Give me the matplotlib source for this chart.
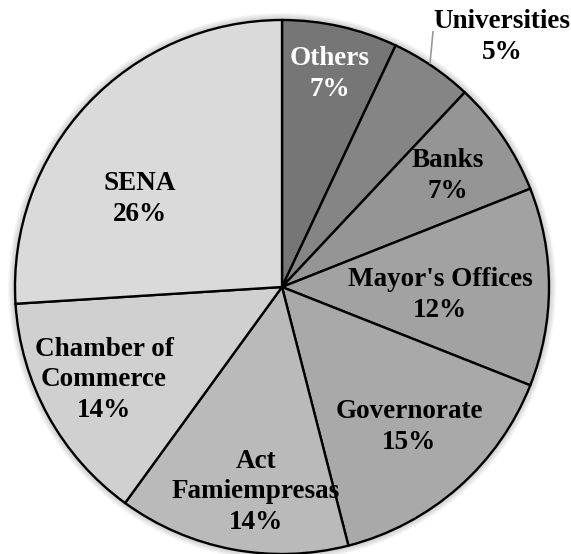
import matplotlib.pyplot as plt

# Data (clockwise from 12 o'clock)
categories = ['Others', 'Universities', 'Banks', "Mayor's Offices", 'Governorate',
              'Act\nFamiempresas', 'Chamber of\nCommerce', 'SENA']
shares = [7, 5, 7, 12, 15, 14, 14, 26]
slice_colors = ['#767676', '#858585', '#959595', '#a2a2a2', '#a9a9a9',
                '#bababa', '#d0d0d0', '#dadada']
text_colors = ['white', 'black', 'black', 'black', 'black', 'black', 'black', 'black']

# Label anchor points in pixels (x from left, y from top)
label_positions = [(330, 74), (502, 37), (448, 176), (440, 295), (409, 427),
                   (256, 492), (104, 380), (140, 199)]

width_px, height_px = 571, 554
center_px = (282, 287)
radius_px = 267

figure = plt.figure(figsize=(width_px / 100, height_px / 100), dpi=100)
axes = figure.add_axes([0, 0, 1, 1])

center = (center_px[0], height_px - center_px[1])

# Soft shadow around the pie
for step in range(6):
    shadow = plt.Circle(center, radius_px + 1 + step * 1.2, color='black',
                        alpha=0.035, lw=0, zorder=0)
    axes.add_patch(shadow)
axes.add_patch(plt.Circle(center, radius_px, color='white', lw=0, zorder=0.5))

axes.pie(shares, colors=slice_colors, startangle=90, counterclock=False,
         center=center, radius=radius_px, frame=True,
         wedgeprops=dict(edgecolor='black', linewidth=1.7))
axes.set_xlim(0, width_px)
axes.set_ylim(0, height_px)
axes.set_aspect('equal')
axes.axis('off')

font = dict(family='Liberation Serif', weight='bold', fontsize=19.5)
for label, share, color, (x, y) in zip(categories, shares, text_colors, label_positions):
    axes.text(x, height_px - y, f'{label}\n{share}%', ha='center', va='center',
              color=color, linespacing=1.3, **font)

# Leader line for Universities
axes.plot([430, 433], [height_px - 63, height_px - 32], color='#999999', lw=1.2)

figure.savefig('out.png', dpi=100)
